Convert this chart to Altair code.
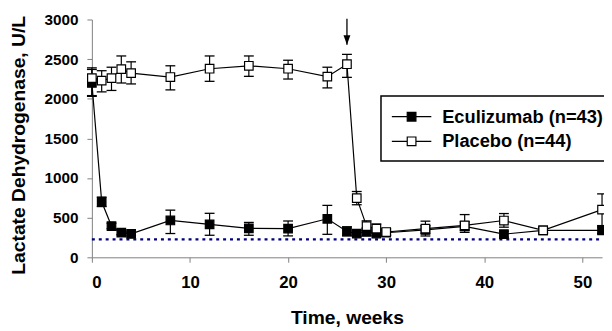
import altair as alt
import pandas as pd

# ---- data ----
weeks = [0, 1, 2, 3, 4, 8, 12, 16, 20, 24, 26, 27, 28, 29, 30, 34, 38, 42, 46, 52]

ecu_mean = [2200, 700, 394, 311, 295, 465, 415, 365, 362, 486, 326, 299, 320, 300, 310, 345, 390, 292, 340, 340]
ecu_low = [2030, 640, 360, 285, 270, 300, 278, 278, 270, 290, 270, 265, 280, 270, 280, 300, 340, 255, 310, 300]
ecu_high = [2370, 760, 430, 340, 320, 595, 555, 440, 458, 655, 385, 335, 360, 330, 340, 400, 450, 330, 370, 380]

plc_mean = [2261, 2229, 2261, 2374, 2324, 2274, 2379, 2416, 2379, 2279, 2436, 747, 394, 361, 319, 361, 402, 464, 340, 601]
plc_low = [2040, 2087, 2105, 2199, 2187, 2112, 2220, 2283, 2249, 2137, 2270, 663, 330, 300, 280, 269, 315, 380, 305, 400]
plc_high = [2390, 2354, 2398, 2540, 2466, 2416, 2540, 2540, 2486, 2398, 2560, 830, 460, 420, 360, 456, 539, 552, 375, 800]

series_names = ["Eculizumab (n=43)", "Placebo (n=44)"]
series_fill = ["black", "white"]

lln_value = [226]          # lower limit of normal (dotted line)
arrow_week = [26]
arrow_top = [3010]
arrow_tip = [2680]

x_ticks = [0, 10, 20, 30, 40, 50]
y_ticks = [0, 500, 1000, 1500, 2000, 2500, 3000]

rows = []
for name, means, lows, highs in [
    (series_names[0], ecu_mean, ecu_low, ecu_high),
    (series_names[1], plc_mean, plc_low, plc_high),
]:
    for w, m, lo, hi in zip(weeks, means, lows, highs):
        rows.append({"series": name, "week": w, "ldh": m, "lo": lo, "hi": hi})
df = pd.DataFrame(rows)

lln_df = pd.DataFrame({"x0": [0], "x1": [52], "y": lln_value})
arrow_df = pd.DataFrame({"week": arrow_week, "top": arrow_top, "tip": arrow_tip})

FONT = "Liberation Sans"

x_enc = alt.X(
    "week:Q",
    scale=alt.Scale(domain=[0, 52], nice=False, zero=False),
    axis=alt.Axis(
        values=x_ticks, title="Time, weeks", labelFontSize=17, labelPadding=13,
        titleFontSize=19.5, titleY=67, titleBaseline="alphabetic",
    ),
)
y_scale = alt.Scale(domain=[0, 3000], nice=False)
y_enc = alt.Y(
    "ldh:Q",
    scale=y_scale,
    axis=alt.Axis(
        values=y_ticks, format="d", title="Lactate Dehydrogenase, U/L", labelFontSize=15.5,
        labelPadding=9, titleFontSize=19.5, titleX=-68, titleY=127,
        titleBaseline="alphabetic", titleAlign="center", titleAngle=270,
    ),
)

fill_scale = alt.Scale(domain=series_names, range=series_fill)

legend_symbol = "M-2,0H-0.44M0.44,0H2M-0.44,-0.44H0.44V0.44H-0.44Z"

layers = []

# LLN dotted line
layers.append(
    alt.Chart(lln_df).mark_rule(color="#000080", strokeWidth=2.3, strokeDash=[3, 4]).encode(
        x=alt.X("x0:Q"), x2="x1:Q", y=alt.Y("y:Q")
    )
)

for i, name in enumerate(series_names):
    sub = df[df["series"] == name]
    base = alt.Chart(sub)
    layers.append(
        base.mark_rule(color="black", strokeWidth=1.2).encode(
            x=alt.X("week:Q"), y=alt.Y("lo:Q"), y2="hi:Q"
        )
    )
    layers.append(
        base.mark_tick(orient="horizontal", color="black", size=10, thickness=1.3, opacity=1).encode(
            x=alt.X("week:Q"), y=alt.Y("lo:Q")
        )
    )
    layers.append(
        base.mark_tick(orient="horizontal", color="black", size=10, thickness=1.3, opacity=1).encode(
            x=alt.X("week:Q"), y=alt.Y("hi:Q")
        )
    )
    layers.append(
        base.mark_line(color="black", strokeWidth=1.2).encode(x=x_enc, y=y_enc)
    )
    legend = None
    if i == 0:
        legend = alt.Legend(
            title=None, orient="none", legendX=293, legendY=77.5, direction="vertical",
            strokeColor="black", fillColor="white", padding=10,
            symbolType=legend_symbol, symbolSize=400, symbolOffset=10, symbolStrokeColor="black",
            symbolStrokeWidth=1.2, symbolOpacity=1, labelFont=FONT, labelFontWeight="bold",
            labelFontSize=18.5, labelColor="black", labelOffset=20, rowPadding=4,
            labelLimit=300,
        )
    layers.append(
        base.mark_point(shape="square", filled=True, size=75, stroke="black", strokeWidth=1.2, opacity=1).encode(
            x=alt.X("week:Q"), y=alt.Y("ldh:Q"),
            fill=alt.Fill("series:N", scale=fill_scale, legend=legend),
        )
    )

# arrow marking week 26
arrow = alt.Chart(arrow_df)
layers.append(
    arrow.mark_rule(color="black", strokeWidth=1.3).encode(x="week:Q", y="top:Q", y2="tip:Q")
)
layers.append(
    arrow.mark_point(shape="M-1,-2.8L1,-2.8L0,0Z", filled=True, size=49, color="black", opacity=1).encode(
        x="week:Q", y="tip:Q"
    )
)

chart = (
    alt.layer(*layers)
    .properties(
        width=517, height=241,
        autosize=alt.AutoSizeParams(type="none"),
        padding={"left": 85, "top": 9.5, "right": 2, "bottom": 70},
    )
    .configure_view(stroke=None)
    .configure_legend(strokeWidth=1.5)
    .configure_axis(
        grid=False, domainColor="#808080", tickColor="#808080", domainWidth=1, tickWidth=1,
        tickSize=5, labelFont=FONT, labelFontWeight="bold", labelColor="black",
        titleFont=FONT, titleFontWeight="bold", titleColor="black",
    )
)

chart.save("out.html", embed_options={"renderer": "svg", "actions": False})
